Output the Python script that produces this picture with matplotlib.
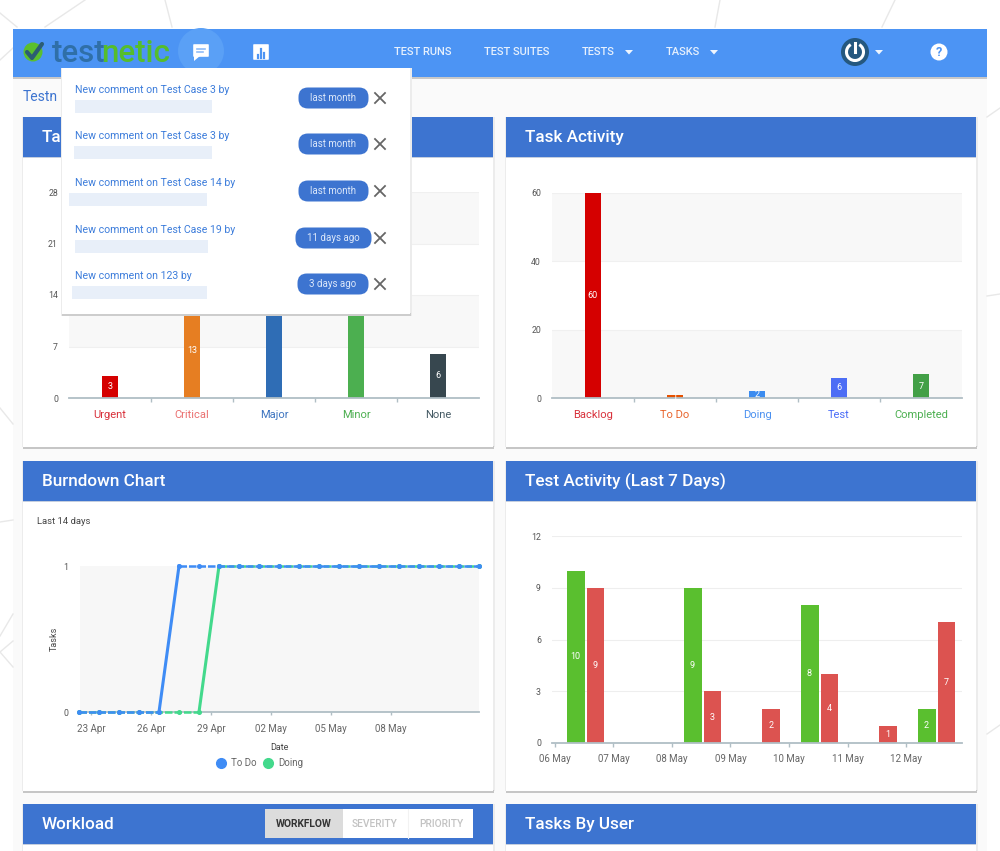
import matplotlib
matplotlib.use('Agg')
import numpy as np
import matplotlib.pyplot as plt
from matplotlib.patches import Rectangle, FancyBboxPatch, Circle, Arc, Polygon
from matplotlib.lines import Line2D

plt.rcParams['font.family'] = ['Roboto', 'DejaVu Sans']

W, H = 1000, 851

# Task priority
priority_labels = ['Urgent', 'Critical', 'Major', 'Minor', 'None']
priority_values = [3, 13, 24, 25, 6]
priority_ticks = [0, 7, 14, 21, 28]
# Task activity
activity_labels = ['Backlog', 'To Do', 'Doing', 'Test', 'Completed']
activity_values = [60, 1, 2, 6, 7]
activity_ticks = [0, 20, 40, 60]
# Burndown
burn_days = list(range(21))
burn_todo = [0, 0, 0, 0, 0] + [1] * 16
burn_doing = [0, 0, 0, 0, 0, 0, 0] + [1] * 14
burn_tick_labels = ['23 Apr', '26 Apr', '29 Apr', '02 May', '05 May', '08 May']
burn_tick_days = [0.6, 3.6, 6.6, 9.6, 12.6, 15.6]
# Test activity
test_days = ['06 May', '07 May', '08 May', '09 May', '10 May', '11 May', '12 May']
test_pass = [10, 0, 9, 0, 8, 0, 2]
test_fail = [9, 0, 3, 2, 4, 1, 7]
test_ticks = [0, 3, 6, 9, 12]
# Notifications popup
notif_text = ['New comment on Test Case 3 by', 'New comment on Test Case 3 by',
              'New comment on Test Case 14 by', 'New comment on Test Case 19 by',
              'New comment on 123 by']
notif_age = ['last month', 'last month', 'last month', '11 days ago', '3 days ago']
nav_labels = ['TEST RUNS', 'TEST SUITES', 'TESTS', 'TASKS']

NAVY = '#3d74d0'
BAR_BLUE = '#4c94f4'
priority_colors = ['#d50000', '#e67e22', '#2f6db5', '#4caf50', '#37474f']
priority_text = ['#d8303a', '#ea6f6f', '#3d74c0', '#4caf50', '#455a64']
activity_colors = ['#d50000', '#e65100', '#3b8cf0', '#4d6ef5', '#43a047']
activity_text = ['#d8303a', '#e8642c', '#4a90f0', '#4a6cf7', '#4caf50']

fig = plt.figure(figsize=(W / 100, H / 100), dpi=100, facecolor='white')

def px_axes(x0, y0, x1, y1, z=1):
    return fig.add_axes([x0 / W, 1 - y1 / H, (x1 - x0) / W, (y1 - y0) / H], zorder=z)

# page background, header strips and cards
bg = px_axes(0, 0, W, H, 0)
bg.set_xlim(0, W)
bg.set_ylim(H, 0)
bg.axis('off')

for seg in [((0, 13), (17, 27)), ((85, 0), (45, 27)), ((165, 0), (172, 27)), ((0, 60), (13, 48)),
            ((720, 0), (715, 27)), ((895, 0), (882, 27)), ((987, 117), (1000, 108)),
            ((987, 296), (1000, 294)), ((987, 734), (1000, 725)), ((0, 408), (13, 424)),
            ((0, 522), (13, 520)), ((0, 636), (13, 614)), ((0, 652), (13, 641)), ((0, 652), (13, 667))]:
    bg.plot(*zip(*seg), color='#e8e8e8', lw=1)

bg.add_patch(Rectangle((13, 29), 974, 822, color='#fafafa', lw=0))

def card(x0, x1, y0, y1, title):
    bg.add_patch(Rectangle((x0 - 1.5, y0), x1 - x0 + 3, y1 - y0, color='#ececec', lw=0))
    bg.add_patch(Rectangle((x0 - 0.5, y1 - 1), x1 - x0 + 1, 2.5, color='#c6c6c6', lw=0))
    bg.add_patch(Rectangle((x0, y0), x1 - x0, y1 - y0, color='white', lw=0))
    bg.add_patch(Rectangle((x0, y0 + 39), x1 - x0, 2, color='#c4cede', lw=0))
    bg.add_patch(Rectangle((x0, y0), x1 - x0, 40, color=NAVY, lw=0))
    bg.text(x0 + 19, y0 + 20.5, title, color='white', fontsize=12.3, fontweight='medium', va='center')

card(23, 493, 117, 447, 'Tas')
card(506, 976, 117, 447, 'Task Activity')
card(23, 493, 461, 791, 'Burndown Chart')
card(506, 976, 461, 791, 'Test Activity (Last 7 Days)')
card(23, 493, 804, 860, 'Workload')
card(506, 976, 804, 860, 'Tasks By User')

bg.text(23, 97, 'Testn', color=NAVY, fontsize=10, va='center')
bg.text(37, 521, 'Last 14 days', color='#444444', fontsize=6.8, va='center')

# workload toggle
bg.add_patch(Rectangle((265, 809), 208, 29, color='white', lw=0))
bg.add_patch(Rectangle((265, 809), 78, 29, color='#dcdcdc', lw=0))
bg.text(304, 824, 'WORKFLOW', color='#333333', fontsize=7.4, fontweight='bold', ha='center', va='center')
bg.text(375, 824, 'SEVERITY', color='#c2c2c2', fontsize=7.4, fontweight='medium', ha='center', va='center')
bg.text(441, 824, 'PRIORITY', color='#c2c2c2', fontsize=7.4, fontweight='medium', ha='center', va='center')
bg.plot([408, 408], [809, 838], color='#f2f2f2', lw=0.8)

def style_axes(ax, yticks):
    ax.patch.set_alpha(0)
    for s in ['top', 'left', 'right']:
        ax.spines[s].set_visible(False)
    ax.spines['bottom'].set_color('#b0bec5')
    ax.spines['bottom'].set_linewidth(1.3)
    ax.set_yticks(yticks)
    ax.tick_params(axis='y', length=0, labelsize=6.3, labelcolor='#555555', pad=8)
    ax.tick_params(axis='x', length=3, color='#b0bec5', width=1, labelsize=7.8)

def category_chart(rect, labels, values, ticks, colors, text_colors):
    ax = px_axes(*rect)
    x = np.arange(len(values))
    for i in range(len(ticks) - 1):
        if (len(ticks) - 2 - i) % 2 == 0:
            ax.axhspan(ticks[i], ticks[i + 1], color='#f8f8f8', lw=0, zorder=0)
    for t in ticks[1:]:
        ax.axhline(t, color='#f0f0f0', lw=0.8, zorder=1)
    ax.bar(x, values, width=0.2, color=colors, zorder=2)
    for xi, v in zip(x, values):
        ax.text(xi, v / 2, str(v), color='white', fontsize=6.5, ha='center', va='center', zorder=3)
    ax.set_xlim(-0.5, len(values) - 0.5)
    ax.set_ylim(0, ticks[-1])
    style_axes(ax, ticks)
    ax.set_xticks(x[:-1] + 0.5)
    ax.set_xticklabels([])
    for xi, lab, c in zip(x, labels, text_colors):
        ax.annotate(lab, (xi, 0), xytext=(0, -17), textcoords=('offset pixels'), color=c,
                    fontsize=8, ha='center', va='center', annotation_clip=False)
    return ax

category_chart((69, 192, 479, 398), priority_labels, priority_values, priority_ticks,
               priority_colors, priority_text)
category_chart((552, 193, 962, 398), activity_labels, activity_values, activity_ticks,
               activity_colors, activity_text)

# burndown
ax = px_axes(79, 566, 479, 712, 2)
ax.axhspan(0, 1, xmin=0.003, color='#f7f7f7', lw=0, zorder=0)
days = np.array(burn_days)
todo = np.array(burn_todo)
doing = np.array(burn_doing)
BLUE, GREEN = '#3f8cf5', '#43d98c'
for ys, col, rise in [(doing, GREEN, 6), (todo, BLUE, 4)]:
    ax.plot(days[:rise + 1], ys[:rise + 1], color=col, lw=1.8, ls=(0, (3, 0.8)), clip_on=False, zorder=3)
    ax.plot(days[rise:rise + 2], ys[rise:rise + 2], color=col, lw=2.2, clip_on=False, zorder=3)
    ax.plot(days[rise + 1:], ys[rise + 1:], color=col, lw=1.8, ls=(0, (3, 0.8)), clip_on=False, zorder=3)
    ax.plot(days, ys, ls='none', marker='o', ms=2.6, color=col, clip_on=False, zorder=3)
ax.set_xlim(0, 20)
ax.set_ylim(0, 1)
style_axes(ax, [0, 1])
ax.spines['bottom'].set_bounds(0.05, 20)
ax.set_xticks(burn_tick_days)
ax.set_xticklabels(burn_tick_labels, color='#666666', fontsize=7)
ax.tick_params(axis='x', length=2, pad=7)
ax.set_xlabel('Date', fontsize=6.5, color='#444444', labelpad=6)
ax.set_ylabel('Tasks', fontsize=6.5, color='#444444', labelpad=3)
handles = [Line2D([], [], ls='none', marker='o', ms=7, color=BLUE, label='To Do'),
           Line2D([], [], ls='none', marker='o', ms=7, color=GREEN, label='Doing')]
fig.legend(handles=handles, loc='center', bbox_to_anchor=(257 / W, 1 - 763 / H), ncol=2, frameon=False,
           fontsize=7, labelcolor='#666666', handletextpad=0.1, columnspacing=0.1)

# test activity
ax = px_axes(552, 536, 962, 743, 2)
x = np.arange(len(test_days))
for t in test_ticks[1:]:
    ax.axhline(t, color='#eeeeee', lw=0.8, zorder=1)
w = 0.3
ax.bar(x - 0.17, test_pass, width=w, color='#5abf2f', zorder=2)
ax.bar(x + 0.16, test_fail, width=w, color='#dc5350', zorder=2)
for xi, p, f in zip(x, test_pass, test_fail):
    if p:
        ax.text(xi - 0.19, p / 2, str(p), color='white', fontsize=6.5, ha='center', va='center', zorder=3)
    if f:
        ax.text(xi + 0.16, f / 2, str(f), color='white', fontsize=6.5, ha='center', va='center', zorder=3)
ax.set_xlim(-0.581, 6.427)
ax.set_ylim(0, 12)
style_axes(ax, test_ticks)
ax.set_xticks(x - 0.53)
ax.set_xticklabels(test_days, color='#666666', fontsize=7)
ax.tick_params(axis='x', length=3, pad=5)

# navbar and popup sit above the charts
top = px_axes(0, 0, W, H, 5)
top.set_xlim(0, W)
top.set_ylim(H, 0)
top.axis('off')
top.patch.set_alpha(0)

top.add_patch(Rectangle((13, 76), 974, 3, color='#c8c8c8', lw=0))
top.add_patch(Rectangle((13, 29), 974, 48, color=BAR_BLUE, lw=0))

# logo
top.add_patch(Circle((33, 52), 9.5, color='#5bbf2e', lw=0))
top.plot([27, 32, 42], [52, 58, 44], color='#2c5d73', lw=3, solid_capstyle='round')
top.text(52, 53, 'test', color='#2f6fa8', fontsize=22.5, fontweight='medium', va='center', ha='left')
top.text(101, 53, 'netic', color='#55bd2c', fontsize=22.5, fontweight='medium', va='center', ha='left')

# chat and chart icons
top.add_patch(Circle((201, 51), 23, color='#5aa0f6', lw=0))
top.add_patch(FancyBboxPatch((194, 45), 14, 11, boxstyle='round,pad=0.8', color='white', lw=0))
top.add_patch(Polygon([(194, 55), (194, 61), (200, 56)], color='white', lw=0))
top.plot([197, 205], [49, 49], color='#8fbcf8', lw=1.2)
top.plot([197, 203], [52, 52], color='#8fbcf8', lw=1.2)
top.add_patch(FancyBboxPatch((254, 45), 14, 14, boxstyle='round,pad=0.8', color='white', lw=0))
for bx, by in [(258, 55), (261, 49), (264, 53)]:
    top.plot([bx, bx], [58, by], color=BAR_BLUE, lw=1.6)

# nav links
for lab, cx in zip(nav_labels, [423, 517, 598, 683]):
    top.text(cx, 52, lab, color='#e6f0fd', fontsize=8, fontweight='medium', ha='center', va='center')
for cx in [629, 714, 879]:
    top.add_patch(Polygon([(cx - 4, 50), (cx + 4, 50), (cx, 54.5)], color='#eef5fe', lw=0))

# power and help icons
top.add_patch(Circle((855, 52), 14, color='#25587f', lw=0))
top.add_patch(Arc((855, 52), 17, 17, theta1=-60, theta2=240, color='white', lw=2.2))
top.plot([855, 855], [43, 52], color='white', lw=2.2)
top.add_patch(Circle((939, 52), 8.5, color='white', lw=0))
top.text(939, 52.5, '?', color=BAR_BLUE, fontsize=9, fontweight='bold', ha='center', va='center')

# notifications popup
top.add_patch(Rectangle((60.5, 68), 351, 247.5, color='#ececec', lw=0))
top.add_patch(Rectangle((61.5, 313), 349, 2.5, color='#cdcdcd', lw=0))
top.add_patch(Rectangle((62, 68), 348, 246, color='white', lw=0))
text_y = [90, 136, 183, 230, 276]
blur_x = [(75, 212), (74, 212), (69, 207), (75, 208), (72, 207)]
pill_x = [(298, 369), (298, 369), (298, 369), (295, 372), (297, 369)]
for txt, age, ty, (bx0, bx1), (px0, px1) in zip(notif_text, notif_age, text_y, blur_x, pill_x):
    top.text(75, ty, txt, color='#3d7ddb', fontsize=7.6, va='center')
    top.add_patch(Rectangle((bx0, ty + 10), bx1 - bx0, 13, color='#e8eff9', lw=0))
    py = ty + 8
    top.add_patch(FancyBboxPatch((px0 + 10, py - 1), px1 - px0 - 20, 2, boxstyle='round,pad=9.5',
                                 color=NAVY, lw=0))
    top.text((px0 + px1) / 2, py, age, color='#dce8fa', fontsize=7, ha='center', va='center')
    top.plot([375, 385], [py - 5, py + 5], color='#666666', lw=1.3)
    top.plot([375, 385], [py + 5, py - 5], color='#666666', lw=1.3)

fig.savefig('out.png', dpi=100)
